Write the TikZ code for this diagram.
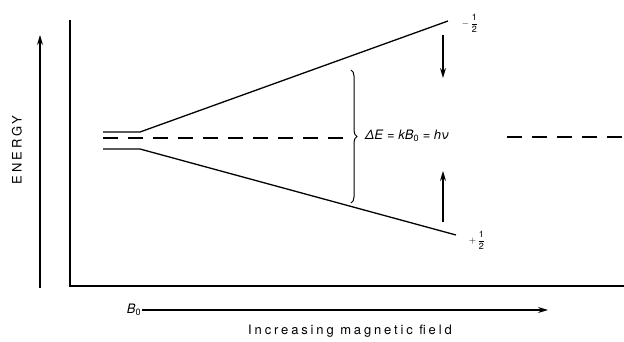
\documentclass[tikz,border=0pt]{standalone}
\usepackage{amsmath}
\usepackage{fontspec}
\setmainfont{TeX Gyre Heros}
\newfontfamily\spacedfont[LetterSpace=22]{TeX Gyre Heros}
\usetikzlibrary{arrows.meta, decorations.pathreplacing}
\newcommand{\halfspin}{\ensuremath{\dfrac{\text{1}}{\text{2}}}}

\begin{document}
\begin{tikzpicture}[x=1pt, y=1pt,
    level/.style={line width=1.3pt},
    midline/.style={line width=1.2pt, dash pattern=on 15pt off 10pt},
    axisline/.style={line width=1.8pt},
    flow/.style={line width=1.2pt, -{Stealth[length=10pt, width=6pt]}},
    lbl/.style={font=\spacedfont\fontsize{13}{15}\selectfont, inner sep=0pt},
    spin/.style={inner sep=1pt, font=\fontsize{9}{9}\selectfont}]
  \useasboundingbox (0,0) rectangle (624,341);

  % axes
  \coordinate (axtop) at (70,321);
  \coordinate (origin) at (70,55);
  \coordinate (axright) at (624,55);
  \draw[axisline] (axtop) -- (origin) -- (axright);

  % energy arrow
  \coordinate (elow) at (40,53);
  \coordinate (ehigh) at (40,306);
  \draw[flow] (elow) -- (ehigh);
  \node[lbl, rotate=90] (energy) at (17,191) {ENERGY};

  % levels
  \coordinate (upstart) at (103,209);
  \coordinate (upknee) at (140,209);
  \coordinate (upend) at (448,320);
  \coordinate (lostart) at (103,192);
  \coordinate (loknee) at (140,192);
  \coordinate (loend) at (456,106);
  \draw[level] (upstart) -- (upknee) -- (upend);
  \draw[level] (lostart) -- (loknee) -- (loend);
  \node[spin] (minus) at (470,318) {$-\,$\halfspin};
  \node[spin] (plus) at (477,101) {$+\,$\halfspin};

  % gap
  \node[inner sep=0pt, font=\fontsize{13}{15}\selectfont] (gap) at (407,205)
    {\textit{ΔE} = \textit{kB}\textsubscript{0} = \textit{hν}};
  \coordinate (midstart) at (103,203);
  \coordinate (midstop) at (347,203);
  \coordinate (tailstart) at (507,204);
  \coordinate (tailend) at (624,204);
  \draw[midline] (midstart) -- (midstop);
  \draw[midline] (tailstart) -- (tailend);
  \coordinate (bracetop) at (351,271);
  \coordinate (bracebot) at (351,138);
  \draw[line width=1pt, decorate,
        decoration={brace, amplitude=6pt}] (bracetop) -- (bracebot);

  % transitions
  \coordinate (downtop) at (443,306);
  \coordinate (downbot) at (443,263);
  \coordinate (upbot) at (443,119);
  \coordinate (uptop) at (443,170);
  \draw[flow] (downtop) -- (downbot);
  \draw[flow] (upbot) -- (uptop);

  % field arrow
  \node[inner sep=1pt, font=\fontsize{13}{15}\selectfont] (field) at (134,31) {\textit{B}\textsubscript{0}};
  \coordinate (fieldend) at (548,31);
  \draw[flow] (field.east) -- (fieldend);
  \node[lbl] (caption) at (350,10) {Increasing magnetic field};
\end{tikzpicture}
\end{document}
